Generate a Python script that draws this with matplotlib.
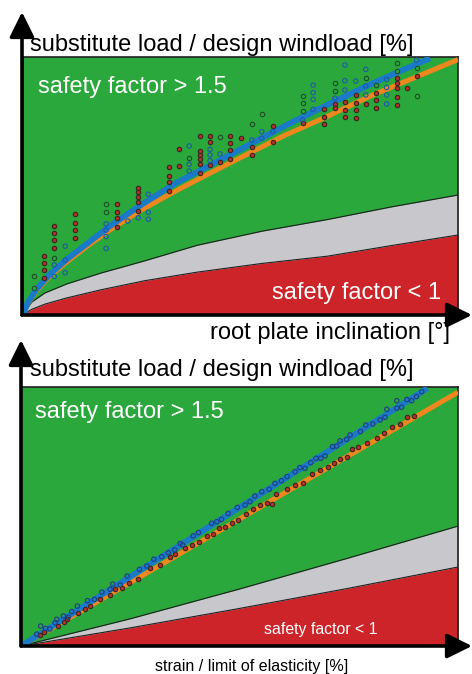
import matplotlib
matplotlib.use("Agg")
from matplotlib import pyplot as plt
from matplotlib.patches import FancyArrowPatch

plt.rcParams['font.family'] = ['Liberation Sans', 'DejaVu Sans']

# ---- top panel: root plate inclination ----
top_blue_x = [0, 1, 3, 6, 10, 15, 20, 27, 35, 43, 52, 61, 70, 80, 88, 93.6]
top_blue_y = [0, 4.5, 9.8, 15.5, 21.5, 28, 34.5, 42.5, 51, 58, 66, 74, 81.5, 89.5, 95.5, 99.5]
top_orange_x = [0, 1, 3, 6, 10, 15, 20, 27, 35, 43, 50, 60, 70, 80, 90, 100]
top_orange_y = [0, 4, 9.2, 14.8, 20.5, 27, 33, 40.5, 48, 55, 61, 69.5, 77, 85, 92, 99]
top_gray_x = [0, 2, 5, 10, 18, 28, 40, 55, 70, 85, 100]
top_gray_y = [0, 5, 8.5, 12, 16.3, 21, 27, 32.5, 37, 42, 46.5]
top_red_x = [0, 2, 5, 10, 18, 28, 40, 55, 70, 85, 100]
top_red_y = [0, 2.2, 4.2, 6.6, 9.8, 13.3, 16.6, 20, 22.8, 27, 31]

top_pts_red_x = [4.9, 4.9, 4.9, 4.9, 7.2, 7.2, 7.2, 7.2, 12.0, 12.0, 12.0, 12.0,
                 21.5, 21.5, 21.5, 21.5, 26.5, 26.5, 26.5, 26.5, 26.5,
                 33.6, 33.6, 33.6, 33.6, 35.9, 35.9,
                 40.7, 40.7, 40.7, 40.7, 40.7, 40.7, 43.0, 43.0, 43.0, 45.3,
                 47.7, 47.7, 47.7, 47.7, 50.0, 52.6, 52.6, 57.4, 57.4, 64.3,
                 69.3, 69.3, 69.3, 71.7, 71.7, 74.0, 74.0, 74.0,
                 76.5, 76.5, 76.5, 76.5, 78.8, 81.1, 81.1, 81.1,
                 85.9, 85.9, 85.9, 85.9, 85.9, 88.2, 90.5]
top_pts_red_y = [23.0, 20.0, 17.4, 14.2, 34.5, 31.7, 29.1, 25.8, 39.0, 35.8, 32.9, 30.0,
                 43.0, 40.1, 37.5, 34.2, 49.1, 47.5, 45.9, 43.7, 40.4,
                 57.2, 54.0, 51.7, 48.2, 64.2, 57.9,
                 69.4, 63.7, 62.0, 60.3, 58.5, 54.9, 69.4, 67.2, 58.1, 59.4,
                 69.5, 66.5, 64.0, 60.6, 68.5, 65.2, 62.0, 73.3, 67.2, 74.5,
                 79.7, 76.6, 74.0, 81.8, 80.1, 82.7, 79.5, 76.9,
                 85.3, 82.0, 79.5, 76.2, 81.8, 86.2, 83.3, 80.1,
                 91.7, 90.1, 87.9, 84.6, 81.4, 88.1, 92.6]

top_pts_green_x = [2.6, 2.6, 7.2, 19.1, 19.1, 38.2, 45.3, 52.6, 54.9, 64.3, 64.3, 64.3,
                   71.7, 71.7, 78.8, 81.1, 85.9, 85.9, 90.5, 90.5]
top_pts_green_y = [15.1, 10.3, 22.0, 42.9, 39.9, 61.0, 69.1, 74.0, 77.8, 85.0, 82.0, 79.2,
                   90.1, 86.9, 92.0, 89.1, 97.8, 94.6, 95.6, 84.9]

top_pts_blue_x = [7.2, 7.2, 9.7, 9.7, 9.7, 19.1, 19.1, 19.1, 19.1, 24.1, 26.5,
                  28.8, 28.8, 28.8, 38.2, 38.2, 38.2, 43.0, 43.0, 43.0, 45.3,
                  52.6, 54.9, 54.9, 57.4, 64.3, 66.7, 66.7, 66.7, 66.7, 71.7,
                  74.0, 74.0, 74.0, 76.5, 78.8, 78.8, 78.8, 83.6, 83.6, 83.6, 83.6, 90.5]
top_pts_blue_y = [19.4, 14.9, 26.7, 21.3, 16.4, 35.3, 32.9, 30.4, 25.8, 36.4, 37.7,
                  46.8, 39.8, 37.1, 65.5, 58.4, 55.8, 64.2, 62.0, 59.8, 62.4,
                  67.8, 71.1, 68.5, 71.1, 75.6, 89.1, 86.2, 83.6, 79.7, 84.0,
                  96.9, 90.8, 87.2, 90.7, 95.2, 88.8, 85.3, 91.3, 88.2, 85.3, 81.8, 98.8]

# ---- bottom panel: strain ----
bot_blue_x = [0, 93]
bot_blue_y = [0, 99.5]
bot_orange_x = [0, 100]
bot_orange_y = [0, 98]
bot_gray_x = [0, 25, 50, 75, 100]
bot_gray_y = [0, 10.5, 22, 34, 46.3]
bot_red_x = [0, 25, 50, 75, 100]
bot_red_y = [0, 7, 14.5, 22.3, 30.5]

bot_pts_blue_x = [3.6, 4.5, 5.6, 6.6, 7.8, 8.2, 9.7, 10.8, 11.6, 12.9, 15.2, 16.8, 18.5,
                  20.4, 21.0, 22.7, 24.3, 27.1, 28.8, 30.4, 32.2, 33.7, 35.2, 36.4, 37.0,
                  39.4, 40.6, 43.6, 44.8, 45.9, 47.4, 49.5, 51.3, 52.4, 53.5, 55.1, 56.8,
                  58.1, 59.6, 60.9, 62.7, 63.8, 65.0, 66.3, 67.5, 68.6, 69.6, 71.3, 72.2,
                  73.0, 74.5, 75.3, 77.7, 78.9, 80.5, 82.2, 83.3, 83.7, 86.0, 86.0, 87.1,
                  88.3, 89.4, 90.5, 91.7]
bot_pts_blue_y = [4.6, 7.7, 6.8, 6.6, 9.0, 10.3, 11.6, 11.1, 13.3, 15.4, 17.5, 18.0, 20.8,
                  21.9, 23.9, 23.6, 27.0, 29.6, 30.9, 33.5, 34.5, 36.0, 37.1, 39.6, 39.0,
                  42.5, 43.8, 47.4, 48.0, 48.9, 51.2, 53.5, 54.4, 55.7, 57.9, 59.6, 60.5,
                  62.8, 63.8, 65.4, 67.3, 68.9, 68.6, 70.8, 72.5, 72.5, 73.4, 77.0, 77.2,
                  79.2, 79.8, 81.5, 82.8, 85.3, 85.7, 87.3, 88.3, 91.4, 94.7, 91.8, 92.2,
                  95.2, 94.7, 96.3, 98.2]
bot_pts_red_x = [4.3, 5.3, 8.5, 9.8, 10.6, 13.1, 14.6, 15.9, 18.1, 20.4, 21.5, 23.0, 24.6,
                 26.8, 29.5, 31.7, 34.1, 35.2, 37.5, 39.1, 40.8, 42.5, 44.0, 45.2, 46.7,
                 48.2, 49.7, 51.6, 53.2, 54.7, 56.2, 57.4, 58.4, 60.8, 62.7, 64.5, 66.7,
                 68.4, 70.3, 71.6, 73.0, 74.5, 75.7, 77.2, 79.1, 81.4, 83.1, 84.8, 86.7,
                 88.3, 89.9]
bot_pts_red_y = [4.2, 5.5, 7.7, 9.4, 10.3, 12.6, 14.2, 15.4, 18.0, 19.7, 21.9, 22.3, 24.2,
                 25.7, 30.0, 31.3, 34.5, 35.5, 37.7, 39.0, 40.3, 42.5, 43.2, 45.4, 45.8,
                 47.6, 48.6, 51.0, 52.8, 54.4, 55.3, 54.8, 58.7, 60.5, 62.2, 63.1, 66.4,
                 68.0, 69.0, 70.5, 72.1, 73.1, 75.9, 76.7, 78.3, 80.2, 82.4, 84.7, 85.7,
                 88.3, 88.8]

GREEN = '#2aa83c'
RED = '#cc2428'
GRAY = '#c8c8cc'
BLUE = '#1a7ac8'
ORANGE = '#f0861e'

W, H = 472, 674
fig = plt.figure(figsize=(W / 100, H / 100), dpi=100)


def panel(rect, gray_x, gray_y, red_x, red_y, orange_x, orange_y, blue_x, blue_y):
    ax = fig.add_axes(rect)
    ax.set_facecolor(GREEN)
    ax.fill_between(gray_x, 0, gray_y, color=GRAY, lw=0, zorder=1)
    ax.plot(gray_x, gray_y, color='#202020', lw=0.8, zorder=2)
    ax.fill_between(red_x, 0, red_y, color=RED, lw=0, zorder=2)
    ax.plot(red_x, red_y, color='#202020', lw=0.8, zorder=3)
    ax.plot(orange_x, orange_y, color=ORANGE, lw=3.6, solid_capstyle='butt', zorder=4)
    ax.plot(blue_x, blue_y, color=BLUE, lw=4.2, solid_capstyle='butt', zorder=5)
    ax.set_xlim(0, 100)
    ax.set_ylim(0, 100)
    ax.set_xticks([])
    ax.set_yticks([])
    for s in ax.spines.values():
        s.set_color('#202020')
        s.set_linewidth(1.2)
    return ax


def pts(ax, x, y, face, edge):
    ax.scatter(x, y, s=10, facecolor=face, edgecolor=edge, linewidths=0.8, zorder=6, clip_on=False)


def arrows(x0, y_bottom, y_top):
    # vertical + horizontal axis arrows in figure pixels (origin bottom left)
    kw = dict(arrowstyle='-|>,head_length=0.85,head_width=0.42', lw=2.6, color='black',
              mutation_scale=18, shrinkA=0, shrinkB=0, transform=fig.transFigure)
    fig.add_artist(FancyArrowPatch((x0 / W, y_bottom / H), (x0 / W, y_top / H), **kw))
    fig.add_artist(FancyArrowPatch((x0 / W, y_bottom / H), (1.0, y_bottom / H), **kw))


ax1 = panel([23 / W, 1 - 315 / H, 435 / W, 258 / H],
            top_gray_x, top_gray_y, top_red_x, top_red_y,
            top_orange_x, top_orange_y, top_blue_x, top_blue_y)
pts(ax1, top_pts_green_x, top_pts_green_y, GREEN, '#1d4d2a')
pts(ax1, top_pts_red_x, top_pts_red_y, '#b8302a', '#3a2420')
pts(ax1, top_pts_blue_x, top_pts_blue_y, 'none', '#2058a8')
ax1.text(0.034, 0.884, 'safety factor > 1.5', transform=ax1.transAxes, color='white',
         fontsize=17, ha='left', va='center', zorder=7)
ax1.text(0.961, 0.085, 'safety factor < 1', transform=ax1.transAxes, color='white',
         fontsize=17, ha='right', va='center', zorder=7)

ax2 = panel([21 / W, 1 - 646 / H, 437 / W, 259 / H],
            bot_gray_x, bot_gray_y, bot_red_x, bot_red_y,
            bot_orange_x, bot_orange_y, bot_blue_x, bot_blue_y)
pts(ax2, bot_pts_red_x, bot_pts_red_y, '#b8302a', '#3a2420')
pts(ax2, bot_pts_blue_x, bot_pts_blue_y, 'none', '#203c80')
ax2.text(0.032, 0.903, 'safety factor > 1.5', transform=ax2.transAxes, color='white',
         fontsize=17, ha='left', va='center', zorder=7)
ax2.text(0.556, 0.062, 'safety factor < 1', transform=ax2.transAxes, color='white',
         fontsize=11.4, ha='left', va='center', zorder=7)

arrows(22, H - 315, H - 12)
arrows(21, H - 646, H - 340)

fig.text(30 / W, 1 - 45 / H, 'substitute load / design windload [%]', fontsize=17,
         ha='left', va='center')
fig.text(450 / W, 1 - 333 / H, 'root plate inclination [°]', fontsize=17,
         ha='right', va='center')
fig.text(30 / W, 1 - 370 / H, 'substitute load / design windload [%]', fontsize=17,
         ha='left', va='center')
fig.text(155 / W, 1 - 667 / H, 'strain / limit of elasticity [%]', fontsize=11.5,
         ha='left', va='center')

fig.savefig('out.png', dpi=100)
